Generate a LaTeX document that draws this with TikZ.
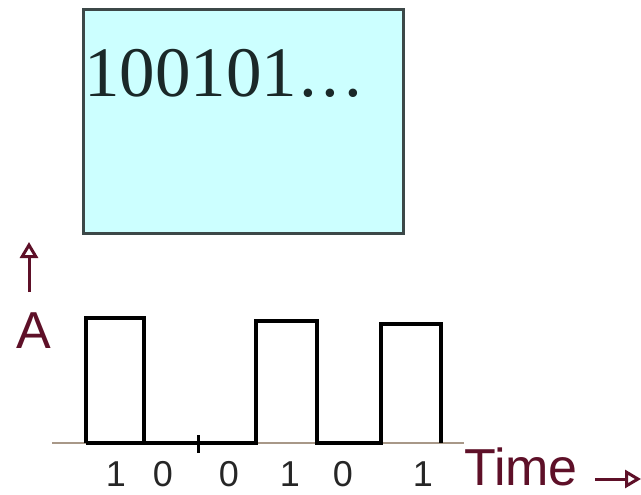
\documentclass[tikz,border=0pt]{standalone}
\usepackage{fontspec}
\setmainfont{Liberation Serif}
\newfontfamily\arial{Liberation Sans}
\usetikzlibrary{arrows.meta}
\definecolor{boxfill}{HTML}{CCFFFF}
\definecolor{boxline}{HTML}{3C4848}
\definecolor{boxtext}{HTML}{1A2828}
\definecolor{maroon}{HTML}{5E1028}
\definecolor{axisgray}{HTML}{A89888}
\tikzset{
  pulse/.style={line width=3.2pt, line join=miter},
  bitlabel/.style={font=\arial\fontsize{36}{36}\selectfont, text=black!85, anchor=base, inner sep=0pt},
  axislabel/.style={font=\arial\fontsize{52}{52}\selectfont, text=maroon, anchor=base west, inner sep=0pt},
  axisarrow/.style={line width=3pt, draw=maroon,
    -{Triangle[open, length=16pt, width=18pt, line width=3pt]}},
}
\begin{document}
\begin{tikzpicture}[x=1pt, y=-1pt]
  \useasboundingbox (0,0) rectangle (641,495);
  % data box
  \node[draw=boxline, fill=boxfill, line width=3pt, minimum width=320pt, minimum height=224pt,
        inner sep=0pt, anchor=north west] (databox) at (82,8) {};
  \node[anchor=base west, inner sep=0pt, text=boxtext,
        font=\fontsize{71}{71}\selectfont] (bits) at (84,97) {100101\kern2pt.\kern5pt.\kern5pt.};
  % amplitude axis
  \node[axislabel, anchor=base] (amp) at (34,348) {A};
  \coordinate (ampfoot) at (29,292);
  \coordinate (amptop) at (29,242);
  \draw[axisarrow] (ampfoot) -- (amptop);
  % time axis
  \coordinate (axl) at (52,443);
  \coordinate (axr) at (464,443);
  \draw[axisgray, line width=2pt] (axl) -- (axr);
  % waveform
  \draw[pulse] (86,443) -- (86,318) -- (144,318) -- (144,443) -- (256,443)
    -- (256,321) -- (317,321) -- (317,443) -- (381,443) -- (381,324)
    -- (441,324) -- (441,443);
  \draw[pulse] (86,443) -- (144,443);
  \draw[pulse] (317,443) -- (381,443);
  \coordinate (ticktop) at (198,435);
  \coordinate (tickbot) at (198,453);
  \draw[line width=3pt] (ticktop) -- (tickbot);
  % bit labels
  \node[bitlabel] (b1) at (116,486) {1};
  \node[bitlabel] (b2) at (163,486) {0};
  \node[bitlabel] (b3) at (229,486) {0};
  \node[bitlabel] (b4) at (290,486) {1};
  \node[bitlabel] (b5) at (343,486) {0};
  \node[bitlabel] (b6) at (423,486) {1};
  % time label
  \node[axislabel] (time) at (464,485) {Time};
  \coordinate (tarrl) at (595,479);
  \coordinate (tarrr) at (641,479);
  \draw[axisarrow] (tarrl) -- (tarrr);
\end{tikzpicture}
\end{document}
